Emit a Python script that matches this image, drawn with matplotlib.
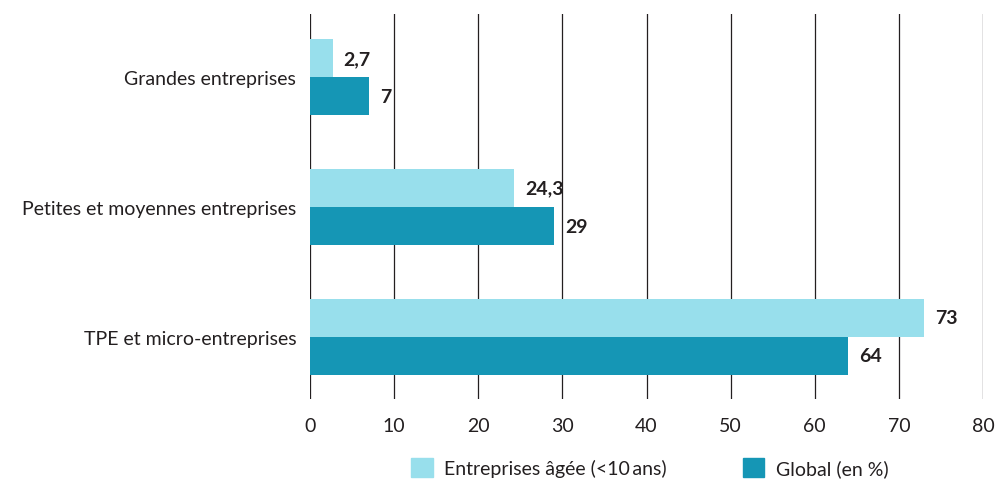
import matplotlib.pyplot as plt
from matplotlib.patches import Patch
import numpy as np

categories = ["Grandes entreprises", "Petites et moyennes entreprises", "TPE et micro-entreprises"]
jeunes = [2.7, 24.3, 73]
global_pct = [7, 29, 64]
jeunes_labels = ["2,7", "24,3", "73"]
global_labels = ["7", "29", "64"]
series_names = ["Entreprises âgée (<10\u2009ans)", "Global (en %)"]

LIGHT = "#98dfec"
DARK = "#1596b5"
TXT = "#231f20"

plt.rcParams["font.family"] = ["Lato", "DejaVu Sans"]

fig = plt.figure(figsize=(9.97, 4.81), dpi=100)
ax = fig.add_axes([0.311, 0.168, 0.675, 0.801])

y = np.arange(len(categories))
h = 0.293
ax.barh(y - h / 2, jeunes, height=h, color=LIGHT, zorder=2)
ax.barh(y + h / 2, global_pct, height=h, color=DARK, zorder=2)

for yi, v, lab in zip(y, jeunes, jeunes_labels):
    ax.text(v + 1.3, yi - h / 2, lab, va="center", ha="left", fontsize=14,
            fontweight="bold", color=TXT)
for yi, v, lab in zip(y, global_pct, global_labels):
    ax.text(v + 1.3, yi + h / 2, lab, va="center", ha="left", fontsize=14,
            fontweight="bold", color=TXT)

ax.set_xlim(0, 80)
ax.set_ylim(2.48, -0.49)
ax.set_xticks(range(0, 81, 10))
ax.xaxis.grid(True, color="#231f20", linewidth=0.9, zorder=1)
ax.set_axisbelow(True)
ax.tick_params(axis="x", length=0, pad=13, labelsize=14, labelcolor=TXT)
ax.tick_params(axis="y", length=0, pad=10, labelsize=14, labelcolor=TXT)
ax.set_yticks(y)
ax.set_yticklabels(categories)
for s in ax.spines.values():
    s.set_visible(False)

handles = [Patch(color=LIGHT), Patch(color=DARK)]
fig.legend(handles, series_names, loc="lower left", bbox_to_anchor=(0.395, -0.03),
           ncol=2, frameon=False, fontsize=14, handlelength=1.1, handleheight=1.1,
           columnspacing=3.9, handletextpad=0.6, labelcolor=TXT)

fig.savefig("out.png", dpi=100)
